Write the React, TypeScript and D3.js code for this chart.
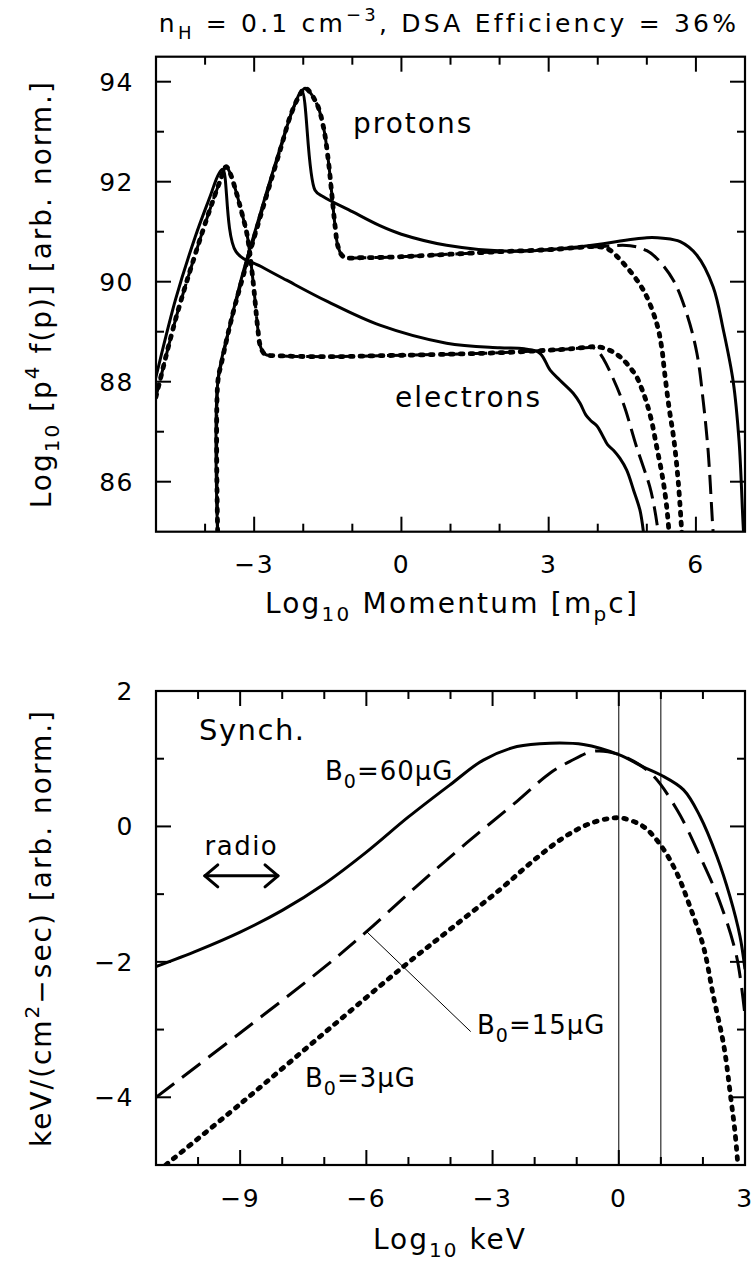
import React from "react";
import * as d3 from "d3";

type Pt = [number, number];

// ---------- Upper panel: particle spectra ----------
const momentumTicks = [-3, 0, 3, 6];
const spectrumTicks = [86, 88, 90, 92, 94];

const protonsSolid: Pt[] = [
  [-3.74, 84.8], [-3.74, 88.0], [-3.5, 89.1], [-3.25, 90.1], [-3.0, 90.95], [-2.75, 91.78],
  [-2.5, 92.58], [-2.3, 93.2], [-2.15, 93.6], [-2.03, 93.82], [-1.76, 91.83], [-1.59, 91.7],
  [-1.0, 91.4], [-0.44, 91.12], [0.0, 90.95], [0.92, 90.73], [2.28, 90.61], [3.64, 90.7],
  [5.0, 90.88], [5.33, 90.87], [5.68, 90.8], [6.02, 90.53], [6.35, 89.9], [6.56, 89.03],
  [6.76, 88.0], [6.88, 86.8], [6.97, 85.0], [6.99, 84.8],
];

const protonsDashed: Pt[] = [
  [-3.74, 84.8], [-3.74, 88.0], [-3.66, 88.4], [-3.45, 89.3], [-3.2, 90.2], [-2.95, 91.05],
  [-2.7, 91.88], [-2.45, 92.7], [-2.25, 93.35], [-2.08, 93.72], [-1.96, 93.87], [-1.73, 93.57],
  [-1.59, 93.1], [-1.49, 92.43], [-1.42, 91.77], [-1.35, 91.1], [-1.29, 90.7], [-1.18, 90.5],
  [-0.8, 90.48], [0, 90.5], [1, 90.55], [2, 90.6], [3, 90.64], [4, 90.7], [4.66, 90.72],
  [5.0, 90.62], [5.2, 90.47], [5.54, 90.03], [5.81, 89.37], [6.02, 88.57], [6.15, 87.6],
  [6.25, 86.6], [6.35, 85.0], [6.37, 84.8],
];

const protonsDotted: Pt[] = [
  [-3.74, 84.8], [-3.74, 88.0], [-3.66, 88.4], [-3.45, 89.3], [-3.2, 90.2], [-2.95, 91.05],
  [-2.7, 91.88], [-2.45, 92.7], [-2.25, 93.35], [-2.08, 93.72], [-1.96, 93.87], [-1.73, 93.57],
  [-1.59, 93.1], [-1.49, 92.43], [-1.42, 91.77], [-1.35, 91.1], [-1.29, 90.7], [-1.18, 90.5],
  [-0.8, 90.48], [0, 90.5], [1, 90.55], [2, 90.6], [3, 90.64], [3.98, 90.7], [4.2, 90.66],
  [4.52, 90.37], [4.93, 89.83], [5.2, 89.17], [5.3, 88.7], [5.36, 88.2], [5.45, 87.5],
  [5.55, 86.85], [5.64, 86.0], [5.71, 85.0], [5.72, 84.8],
];

const electronsSolid: Pt[] = [
  [-5.05, 87.9], [-5.0, 88.1], [-4.6, 89.65], [-4.2, 90.9], [-3.9, 91.7], [-3.73, 92.14],
  [-3.64, 92.25], [-3.37, 90.6], [-2.85, 90.3], [-2.34, 90.03], [-1.5, 89.6], [-0.44, 89.13],
  [0.92, 88.77], [2.0, 88.68], [2.5, 88.66], [2.82, 88.57], [3.03, 88.23], [3.23, 88.03],
  [3.5, 87.77], [3.64, 87.57], [3.76, 87.33], [3.86, 87.22], [3.98, 87.12], [4.1, 86.92],
  [4.2, 86.74], [4.32, 86.63], [4.45, 86.47], [4.59, 86.23], [4.73, 85.83], [4.86, 85.43],
  [4.93, 85.0], [4.95, 84.8],
];

const electronsDashed: Pt[] = [
  [-5.05, 87.5], [-5.0, 87.7], [-4.6, 89.25], [-4.2, 90.55], [-3.9, 91.45], [-3.7, 92.0],
  [-3.57, 92.3], [-3.49, 92.17], [-3.36, 91.77], [-3.25, 91.37], [-3.15, 90.97],
  [-3.08, 90.5], [-3.0, 89.8], [-2.93, 89.1], [-2.87, 88.7], [-2.78, 88.55], [-2.5, 88.52],
  [-1.5, 88.5], [-0.44, 88.52], [1, 88.55], [2, 88.58], [3, 88.63], [3.5, 88.66],
  [3.9, 88.68], [4.0, 88.62], [4.12, 88.45], [4.25, 88.2], [4.52, 87.57], [4.79, 86.7],
  [5.06, 85.9], [5.15, 85.5], [5.23, 85.0], [5.25, 84.8],
];

const electronsDotted: Pt[] = [
  [-5.05, 87.5], [-5.0, 87.7], [-4.6, 89.25], [-4.2, 90.55], [-3.9, 91.45], [-3.7, 92.0],
  [-3.57, 92.3], [-3.49, 92.17], [-3.36, 91.77], [-3.25, 91.37], [-3.15, 90.97],
  [-3.08, 90.5], [-3.0, 89.8], [-2.93, 89.1], [-2.87, 88.7], [-2.78, 88.55], [-2.5, 88.52],
  [-1.5, 88.5], [-0.44, 88.52], [1, 88.55], [2, 88.58], [3, 88.63], [3.5, 88.66],
  [3.9, 88.7], [4.1, 88.68], [4.3, 88.6], [4.45, 88.5], [4.62, 88.33], [4.79, 88.1],
  [4.9, 87.85], [5.0, 87.57], [5.1, 87.2], [5.2, 86.7], [5.3, 86.2], [5.37, 85.77],
  [5.42, 85.35], [5.45, 85.0], [5.46, 84.8],
];

// ---------- Lower panel: synchrotron emission ----------
const energyTicks = [-9, -6, -3, 0, 3];
const fluxTicks = [-4, -2, 0, 2];
const bandEdges = [0, 1];

const synchB60: Pt[] = [
  [-11, -2.07], [-10, -1.83], [-9, -1.56], [-8, -1.24], [-7, -0.85], [-6, -0.38],
  [-5, 0.14], [-4, 0.62], [-3.22, 0.98], [-2.42, 1.18], [-1.63, 1.23], [-0.84, 1.21],
  [0.0, 1.06], [0.58, 0.88], [1.0, 0.76], [1.54, 0.54], [1.93, 0.15], [2.33, -0.44],
  [2.64, -1.03], [2.88, -1.62], [3.0, -2.11],
];

const synchB15: Pt[] = [
  [-11, -4.0], [-9, -3.05], [-7.02, -2.09], [-5.99, -1.55], [-4.8, -0.88], [-3.61, -0.24],
  [-2.42, 0.37], [-1.63, 0.79], [-1.16, 0.96], [-0.6, 1.11], [0.01, 1.06], [0.75, 0.79],
  [1.38, 0.25], [1.93, -0.44], [2.41, -1.13], [2.8, -1.92], [3.0, -2.8],
];

const synchB3: Pt[] = [
  [-10.77, -5.0], [-9, -4.1], [-7, -3.05], [-5.12, -2.07], [-4.01, -1.52], [-2.82, -0.93],
  [-2.0, -0.49], [-1.3, -0.16], [-0.7, 0.04], [-0.2, 0.12], [0.1, 0.12], [0.58, 0.0],
  [1.01, -0.29], [1.38, -0.69], [1.69, -1.18], [2.01, -1.77], [2.25, -2.51], [2.5, -3.25],
  [2.66, -4.0], [2.76, -4.5], [2.83, -5.0], [2.84, -5.1],
];

const radioBand: Pt[] = [[-9.84, -0.73], [-8.1, -0.73]];
const leaderB15: Pt[] = [[-6.0, -1.55], [-3.52, -3.03]];

// ---------- layout ----------
const FONT = "'DejaVu Sans', sans-serif";
const xTop = d3.scaleLinear().domain([-5, 7]).range([156, 745]);
const yTop = d3.scaleLinear().domain([85, 94.5]).range([531.7, 56.7]);
const xBot = d3.scaleLinear().domain([-11, 3]).range([156, 745]);
const yBot = d3.scaleLinear().domain([-5, 2]).range([1165, 691]);

type LineStyle = { width: number; dash?: string; cap?: "round" | "butt" };
const SOLID: LineStyle = { width: 3 };
const DASH_TOP: LineStyle = { width: 3, dash: "19 8" };
const DOT: LineStyle = { width: 4.8, dash: "2.8 7.2", cap: "round" };
const DASH_BOT: LineStyle = { width: 3, dash: "23 10" };

function Curve({ data, x, y, style, clip }: {
  data: Pt[]; x: d3.ScaleLinear<number, number>; y: d3.ScaleLinear<number, number>;
  style: LineStyle; clip: string;
}) {
  const line = d3.line<Pt>().x((d) => x(d[0])).y((d) => y(d[1])).curve(d3.curveCatmullRom.alpha(0.5));
  return (
    <path d={line(data) || ""} fill="none" stroke="#000" strokeWidth={style.width}
      strokeDasharray={style.dash} strokeLinecap={style.cap || "butt"} strokeLinejoin="round"
      clipPath={`url(#${clip})`} />
  );
}

function Frame({ x, y, xMajor, yMajor, xLabelY }: {
  x: d3.ScaleLinear<number, number>; y: d3.ScaleLinear<number, number>;
  xMajor: number[]; yMajor: number[]; xLabelY: number;
}) {
  const [x0, x1] = x.domain();
  const [y0, y1] = y.domain();
  const [px0, px1] = x.range();
  const [py0, py1] = y.range();
  const xMinor = d3.range(Math.ceil(x0), Math.floor(x1) + 1).filter((v) => v > x0 && v < x1);
  const yMinor = d3.range(Math.ceil(y0), Math.floor(y1) + 1).filter((v) => v > y0 && v < y1);
  const MAJ = 15, MIN = 8;
  const fmt = (v: number) => (v < 0 ? "\u2212" + Math.abs(v) : String(v));
  return (
    <g>
      {xMinor.map((v) => {
        const L = xMajor.includes(v) ? MAJ : MIN;
        return (
          <g key={"xt" + v}>
            <line x1={x(v)} x2={x(v)} y1={py0} y2={py0 - L} stroke="#000" strokeWidth={2} />
            <line x1={x(v)} x2={x(v)} y1={py1} y2={py1 + L} stroke="#000" strokeWidth={2} />
          </g>
        );
      })}
      {yMinor.map((v) => {
        const L = yMajor.includes(v) ? MAJ : MIN;
        return (
          <g key={"yt" + v}>
            <line x1={px0} x2={px0 + L} y1={y(v)} y2={y(v)} stroke="#000" strokeWidth={2} />
            <line x1={px1} x2={px1 - L} y1={y(v)} y2={y(v)} stroke="#000" strokeWidth={2} />
          </g>
        );
      })}
      <rect x={px0} y={py1} width={px1 - px0} height={py0 - py1} fill="none" stroke="#000" strokeWidth={2.2} />
      {xMajor.map((v) => (
        <text key={"xl" + v} x={x(v)} y={xLabelY} textAnchor="middle" fontSize={25}
          fontFamily={FONT} letterSpacing={1.5}>{fmt(v)}</text>
      ))}
      {yMajor.map((v) => (
        <text key={"yl" + v} x={134} y={y(v) + 9} textAnchor="end" fontSize={25}
          fontFamily={FONT} letterSpacing={1.5}>{fmt(v)}</text>
      ))}
    </g>
  );
}

export default function App() {
  const arrowY = yBot(radioBand[0][1]);
  const ax0 = xBot(radioBand[0][0]);
  const ax1 = xBot(radioBand[1][0]);
  return (
    <svg width={756} height={1264} viewBox="0 0 756 1264"
      style={{ position: "absolute", left: 0, top: 0, background: "#fff" }}
      fontFamily={FONT}>
      <defs>
        <clipPath id="clipTop">
          <rect x={156} y={56.7} width={589} height={475} />
        </clipPath>
        <clipPath id="clipBot">
          <rect x={156} y={691} width={589} height={474} />
        </clipPath>
      </defs>
      <rect x={0} y={0} width={756} height={1264} fill="#fff" />

      {/* title */}
      <text x={449} y={32} textAnchor="middle" fontSize={25} letterSpacing={3.2}>
        n<tspan fontSize={18} dy={7}>H</tspan><tspan dy={-7}> = 0.1 cm</tspan>
        <tspan fontSize={18} dy={-11}>{"\u22123"}</tspan><tspan dy={11}>, DSA Efficiency = 36%</tspan>
      </text>

      {/* upper panel curves */}
      <Curve data={protonsSolid} x={xTop} y={yTop} style={SOLID} clip="clipTop" />
      <Curve data={protonsDashed} x={xTop} y={yTop} style={DASH_TOP} clip="clipTop" />
      <Curve data={protonsDotted} x={xTop} y={yTop} style={DOT} clip="clipTop" />
      <Curve data={electronsSolid} x={xTop} y={yTop} style={SOLID} clip="clipTop" />
      <Curve data={electronsDashed} x={xTop} y={yTop} style={DASH_TOP} clip="clipTop" />
      <Curve data={electronsDotted} x={xTop} y={yTop} style={DOT} clip="clipTop" />
      <Frame x={xTop} y={yTop} xMajor={momentumTicks} yMajor={spectrumTicks} xLabelY={573} />
      <text x={353} y={133} fontSize={28} letterSpacing={2}>protons</text>
      <text x={395} y={407} fontSize={28} letterSpacing={2}>electrons</text>

      {/* upper panel axis titles */}
      <text x={452} y={613} textAnchor="middle" fontSize={28} letterSpacing={2.2}>
        Log<tspan fontSize={20} dy={8}>10</tspan><tspan dy={-8}> Momentum [m</tspan>
        <tspan fontSize={20} dy={8}>p</tspan><tspan dy={-8}>c]</tspan>
      </text>
      <text transform={`translate(51, ${(56.7 + 531.7) / 2}) rotate(-90)`} textAnchor="middle" fontSize={28} letterSpacing={2}>
        Log<tspan fontSize={20} dy={8}>10</tspan><tspan dy={-8}> [p</tspan>
        <tspan fontSize={20} dy={-12}>4</tspan><tspan dy={12}> f(p)] [arb. norm.]</tspan>
      </text>

      {/* lower panel */}
      {bandEdges.map((v) => (
        <line key={"band" + v} x1={xBot(v)} x2={xBot(v)} y1={yBot(-5)} y2={yBot(2)} stroke="#000" strokeWidth={1} />
      ))}
      <Curve data={synchB60} x={xBot} y={yBot} style={SOLID} clip="clipBot" />
      <Curve data={synchB15} x={xBot} y={yBot} style={DASH_BOT} clip="clipBot" />
      <Curve data={synchB3} x={xBot} y={yBot} style={DOT} clip="clipBot" />
      <line x1={xBot(leaderB15[0][0])} y1={yBot(leaderB15[0][1])} x2={xBot(leaderB15[1][0])} y2={yBot(leaderB15[1][1])}
        stroke="#000" strokeWidth={1} />
      <Frame x={xBot} y={yBot} xMajor={energyTicks} yMajor={fluxTicks} xLabelY={1207} />

      {/* radio band arrow */}
      <g stroke="#000" strokeWidth={3} fill="none" strokeLinecap="round" strokeLinejoin="round">
        <line x1={ax0} x2={ax1} y1={arrowY} y2={arrowY} />
        <polyline points={`${ax0 + 13},${arrowY - 11} ${ax0},${arrowY} ${ax0 + 13},${arrowY + 11}`} />
        <polyline points={`${ax1 - 13},${arrowY - 11} ${ax1},${arrowY} ${ax1 - 13},${arrowY + 11}`} />
      </g>
      <text x={(ax0 + ax1) / 2} y={855} textAnchor="middle" fontSize={26} letterSpacing={1.5}>radio</text>
      <text x={199} y={740} fontSize={29} letterSpacing={1.5}>Synch.</text>
      <text x={325} y={780} fontSize={26} letterSpacing={1}>
        B<tspan fontSize={19} dy={8}>0</tspan><tspan dy={-8}>=60μG</tspan>
      </text>
      <text x={477} y={1034} fontSize={26} letterSpacing={1}>
        B<tspan fontSize={19} dy={8}>0</tspan><tspan dy={-8}>=15μG</tspan>
      </text>
      <text x={305} y={1087} fontSize={26} letterSpacing={1}>
        B<tspan fontSize={19} dy={8}>0</tspan><tspan dy={-8}>=3μG</tspan>
      </text>

      {/* lower panel axis titles */}
      <text x={450} y={1249} textAnchor="middle" fontSize={28} letterSpacing={2}>
        Log<tspan fontSize={20} dy={8}>10</tspan><tspan dy={-8}> keV</tspan>
      </text>
      <text transform={`translate(51, ${(691 + 1165) / 2}) rotate(-90)`} textAnchor="middle" fontSize={28} letterSpacing={2}>
        keV/(cm<tspan fontSize={20} dy={-12}>2</tspan><tspan dy={12}>{"\u2212sec) [arb. norm.]"}</tspan>
      </text>
    </svg>
  );
}
